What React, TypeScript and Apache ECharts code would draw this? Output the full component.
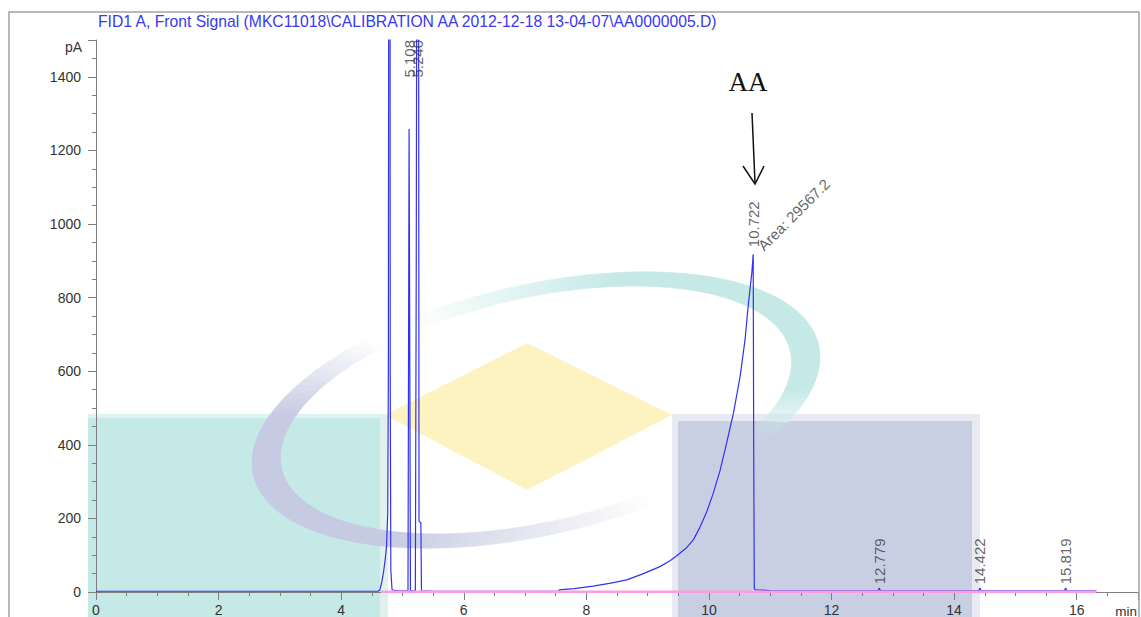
import React, { useEffect, useRef } from "react";
import * as echarts from "echarts";

const TITLE =
  "FID1 A, Front Signal (MKC11018\\CALIBRATION AA 2012-12-18 13-04-07\\AA0000005.D)";

// Axis ranges (retention time in min, response in pA)
const X_MIN = 0;
const X_MAX = 17;
const X_STEP = 2;
const Y_MIN = 0;
const Y_MAX = 1500;
const Y_STEP = 200;

// FID trace: retention time (min)
const signalTime = [
  0, 4.6, 4.63, 4.66, 4.69, 4.72, 4.74, 4.76, 4.77, 4.78, 4.795, 4.8, 4.81, 4.83, 4.9,
  5.09, 5.1, 5.108, 5.12, 5.13, 5.21, 5.225, 5.24, 5.26, 5.27, 5.3, 5.31, 5.5,
  7.55, 7.555, 7.8, 8.11, 8.4, 8.66, 8.93, 9.2, 9.36, 9.47, 9.64, 9.75, 9.85, 9.96,
  10.07, 10.18, 10.29, 10.4, 10.51, 10.59, 10.64, 10.7, 10.722, 10.73, 10.74, 10.76,
  11.0, 12.7, 12.76, 12.779, 12.8, 14.4, 14.422, 14.44, 15.8, 15.819, 15.84, 16.32,
];
// FID trace: response (pA)
const signalPA = [
  2, 2, 5, 25, 53, 90, 124, 215, 600, 2600, 2600, 600, 60, 6, 3,
  3, 700, 1258, 600, 3, 3, 900, 2400, 2400, 192, 188, 3, 2,
  2, 6, 9, 16, 24, 33, 50, 69, 84, 98, 121, 143, 175, 216,
  268, 329, 406, 486, 587, 687, 777, 868, 918, 400, 10, 6,
  4, 3, 3, 11, 3, 3, 11, 3, 3, 11, 3, 3,
];

// Integration baseline
const baselineTime = [4.65, 16.32];
const baselinePA = [1, 1];

// Peak retention-time labels and the response level where each label starts
const peakTimes = [5.108, 5.24, 10.722, 12.779, 14.422, 15.819];
const peakLabelPA = [1398, 1398, 937, 21, 21, 21];

// Area annotation of the AA peak
const areaText = "Area: 29567.2";
const areaAt = [10.84, 935];

const FONT = "'Liberation Sans', Arial, sans-serif";

// Backdrop panels of the logo: [x, y, w, h, colour]
const PANELS: [number, number, number, number, string][] = [
  [88, 414, 300, 210, "#dff2f0"],
  [88, 418, 292, 210, "#c5e9e6"],
  [672, 414, 308, 210, "#e7eaf3"],
  [678, 421, 294, 210, "#c9cfe3"],
];

function hexToRgb(h: string) {
  const n = parseInt(h.slice(1), 16);
  return [(n >> 16) & 255, (n >> 8) & 255, n & 255];
}
function mix(a: string, b: string, t: number) {
  const ca = hexToRgb(a);
  const cb = hexToRgb(b);
  const c = ca.map((v, i) => Math.round(v + (cb[i] - v) * t));
  return `rgb(${c[0]},${c[1]},${c[2]})`;
}
function backdropAt(x: number, y: number) {
  let c = "#ffffff";
  for (const [px, py, w, h, col] of PANELS) {
    if (x >= px && x <= px + w && y >= py && y <= py + h) c = col;
  }
  return c;
}

// Crescent band along a tilted ellipse, faded into what lies beneath at both ends
function ellipseBand(
  cx: number, cy: number, rotDeg: number, a: number, b: number, wa: number, wb: number,
  fromDeg: number, toDeg: number, color: string, fadeIn: number, fadeOut: number
) {
  const rot = (rotDeg * Math.PI) / 180;
  const pt = (rx: number, ry: number, phi: number) => {
    const x = rx * Math.cos(phi);
    const y = ry * Math.sin(phi);
    return [cx + x * Math.cos(rot) - y * Math.sin(rot), cy + x * Math.sin(rot) + y * Math.cos(rot)];
  };
  const steps = 90;
  const out: any[] = [];
  for (let i = 0; i < steps; i++) {
    const p0 = ((fromDeg + ((toDeg - fromDeg) * i) / steps) * Math.PI) / 180;
    const p1 = ((fromDeg + ((toDeg - fromDeg) * (i + 1)) / steps) * Math.PI) / 180;
    const pm = (p0 + p1) / 2;
    const mid = pt(a - wa / 2, b - wb / 2, pm);
    const f = (i + 0.5) / steps;
    const t = Math.max(0, Math.min(1, f / fadeIn, (1 - f) / fadeOut));
    const fill = mix(backdropAt(mid[0], mid[1]), color, t);
    out.push({
      type: "polygon",
      silent: true,
      z: 1,
      shape: { points: [pt(a, b, p0), pt(a, b, p1), pt(a - wa, b - wb, p1), pt(a - wa, b - wb, p0)] },
      style: { fill, stroke: fill, lineWidth: 0.6 },
    });
  }
  return out;
}

function watermark() {
  return [
    ...PANELS.map(([x, y, w, h, fill]) => ({
      type: "rect",
      silent: true,
      z: 1,
      shape: { x, y, width: w, height: h },
      style: { fill },
    })),
    {
      type: "polygon",
      silent: true,
      z: 1,
      shape: { points: [[385, 415], [527, 343], [672, 415], [527, 490]] },
      style: { fill: "#fdf3c0" },
    },
    ...ellipseBand(536, 410, -13, 290, 125, 29, 13, -112, 42, "#c4e9e6", 0.3, 0.15),
    ...ellipseBand(536, 410, -13, 290, 125, 29, 13, 70, 240, "#c6cae2", 0.35, 0.2),
  ];
}

function annotations() {
  return [
    {
      type: "rect",
      silent: true,
      z: 20,
      shape: { x: 9, y: 12, width: 1130, height: 700 },
      style: { fill: "none", stroke: "#a3a3a3", lineWidth: 1.5 },
    },
    {
      type: "text",
      silent: true,
      z: 20,
      x: 82,
      y: 47,
      style: { text: "pA", font: `14px ${FONT}`, fill: "#333", align: "right", verticalAlign: "middle" },
    },
    {
      type: "text",
      silent: true,
      z: 20,
      x: 1137,
      y: 611,
      style: { text: "min", font: `13.5px ${FONT}`, fill: "#333", align: "right", verticalAlign: "middle" },
    },
    {
      type: "text",
      silent: true,
      z: 20,
      x: 748,
      y: 82,
      style: {
        text: "AA",
        font: `27px 'Liberation Serif', 'Times New Roman', serif`,
        fill: "#111",
        align: "center",
        verticalAlign: "middle",
      },
    },
    {
      type: "line",
      silent: true,
      z: 20,
      shape: { x1: 752, y1: 113, x2: 755, y2: 183 },
      style: { stroke: "#111", lineWidth: 1.5 },
    },
    {
      type: "polyline",
      silent: true,
      z: 20,
      shape: { points: [[743, 166], [755, 184], [764, 166]] },
      style: { stroke: "#111", lineWidth: 1.5, fill: "none" },
    },
  ];
}

export default function App() {
  const ref = useRef<HTMLDivElement>(null);

  useEffect(() => {
    if (!ref.current) return;
    const chart = echarts.init(ref.current, undefined, { renderer: "svg" });

    const signal = signalTime.map((t, i) => [t, signalPA[i]]);
    const baseline = baselineTime.map((t, i) => [t, baselinePA[i]]);
    const peakLabels = peakTimes.map((t, i) => ({ value: [t, peakLabelPA[i]], name: t.toFixed(3) }));

    const axisGrey = "#7f7f7f";
    const axisCommon = {
      type: "value" as const,
      z: 5,
      splitLine: { show: false },
      axisLine: { show: true, onZero: false, lineStyle: { color: axisGrey, width: 1 } },
      axisTick: { show: true, inside: false, length: 8, lineStyle: { color: axisGrey } },
      minorTick: { show: true, splitNumber: 4, length: 4, lineStyle: { color: axisGrey } },
    };
    const labelCommon = {
      color: "#333",
      fontSize: 14,
      fontFamily: FONT,
      showMaxLabel: false,
      formatter: (v: number) => String(v),
    };

    chart.setOption({
      animation: false,
      backgroundColor: "#ffffff",
      title: {
        text: TITLE,
        left: 98,
        top: 13,
        padding: 0,
        textStyle: { color: "#3838f0", fontSize: 15.7, fontWeight: "normal", fontFamily: FONT },
      },
      grid: { left: 96, right: 3, top: 40, bottom: 24, containLabel: false },
      xAxis: {
        ...axisCommon,
        min: X_MIN,
        max: X_MAX,
        interval: X_STEP,
        axisLabel: { ...labelCommon, margin: 11 },
      },
      yAxis: {
        ...axisCommon,
        min: Y_MIN,
        max: Y_MAX,
        interval: Y_STEP,
        axisLabel: { ...labelCommon, margin: 15 },
      },
      graphic: { elements: [...watermark(), ...annotations()] },
      series: [
        {
          name: "FID1 A",
          type: "line",
          z: 10,
          data: signal,
          showSymbol: false,
          clip: true,
          lineStyle: { color: "#3232ee", width: 1.2 },
          silent: true,
        },
        {
          name: "Baseline",
          type: "line",
          z: 11,
          data: baseline,
          showSymbol: false,
          lineStyle: { color: "#ff9be2", width: 2.5 },
          silent: true,
        },
        {
          name: "Retention times",
          type: "scatter",
          z: 12,
          symbolSize: 1,
          itemStyle: { color: "rgba(0,0,0,0)" },
          silent: true,
          data: peakLabels,
          label: {
            show: true,
            position: "inside",
            rotate: 90,
            align: "left",
            verticalAlign: "middle",
            formatter: (p: any) => p.name,
            color: "#3c3c3c",
            fontSize: 15,
            fontFamily: FONT,
          },
        },
        {
          name: "Area",
          type: "scatter",
          z: 12,
          symbolSize: 1,
          itemStyle: { color: "rgba(0,0,0,0)" },
          silent: true,
          data: [{ value: areaAt, name: areaText }],
          label: {
            show: true,
            position: "inside",
            rotate: 45,
            align: "left",
            verticalAlign: "middle",
            formatter: (p: any) => p.name,
            color: "#3c3c3c",
            fontSize: 15,
            fontFamily: FONT,
          },
        },
      ],
    });

    return () => chart.dispose();
  }, []);

  return (
    <div
      ref={ref}
      style={{ position: "absolute", left: 0, top: 0, width: 1141, height: 617, background: "#fff" }}
    />
  );
}
